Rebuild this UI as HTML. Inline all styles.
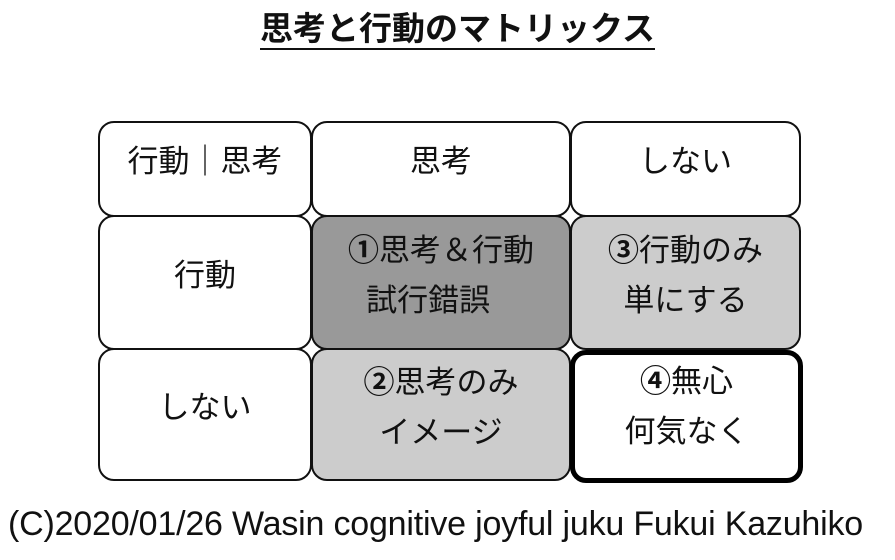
<!DOCTYPE html>
<html><head><meta charset="utf-8"><style>
body{margin:0;width:895px;height:560px;background:#fff;position:relative;overflow:hidden;font-family:"Liberation Sans","Noto Sans CJK JP",sans-serif;color:#111}
.t{position:absolute;left:0;width:915px;top:2px;text-align:center;font-size:33px;font-weight:bold}
.t span{border-bottom:2px solid #111;padding-bottom:1px}
.b{position:absolute;box-sizing:border-box;border:2px solid #111;border-radius:16px;display:flex;align-items:center;justify-content:center;text-align:center;font-size:31px;line-height:50px;padding-bottom:14px}
.f{position:absolute;left:8px;top:505px;font-size:34px;white-space:nowrap;letter-spacing:-0.2px}
.n{font-weight:bold}
</style></head><body>
<div class="t"><span>思考と行動のマトリックス</span></div>
<div class="b" style="left:98px;top:121px;width:214px;height:96px">行動｜思考</div>
<div class="b" style="left:311px;top:121px;width:260px;height:96px">思考</div>
<div class="b" style="left:570px;top:121px;width:231px;height:96px">しない</div>
<div class="b" style="left:98px;top:215px;width:214px;height:135px">行動</div>
<div class="b" style="left:311px;top:215px;width:260px;height:135px;background:#999"><div><span class="n">①</span>思考＆行動<br>試行錯誤&nbsp;&nbsp;&nbsp;</div></div>
<div class="b" style="left:570px;top:215px;width:231px;height:135px;background:#ccc"><div><span class="n">③</span>行動のみ<br>単にする</div></div>
<div class="b" style="left:98px;top:348px;width:214px;height:133px">しない</div>
<div class="b" style="left:311px;top:348px;width:260px;height:133px;background:#ccc"><div><span class="n">②</span>思考のみ<br>イメージ</div></div>
<div class="b" style="left:570px;top:350px;width:233px;height:133px;border:5px solid #000;padding-bottom:20px"><div><span class="n">④</span>無心<br>何気なく</div></div>
<div class="f">(C)2020/01/26 Wasin cognitive joyful juku Fukui Kazuhiko</div>
</body></html>
